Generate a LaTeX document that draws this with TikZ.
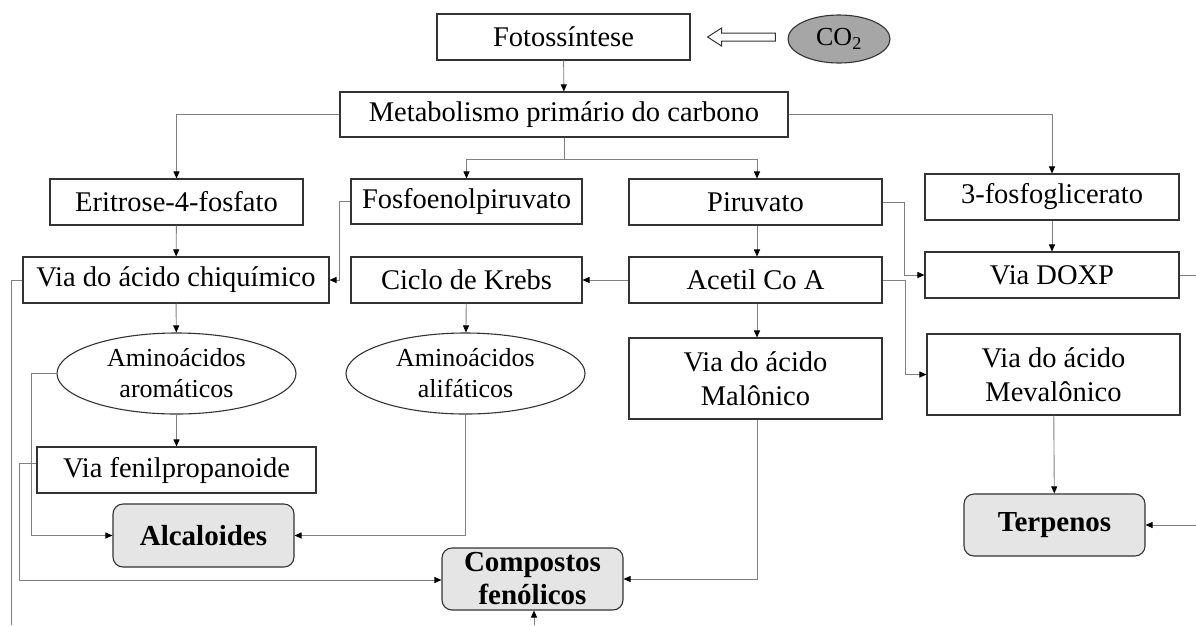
\documentclass[tikz,border=0pt]{standalone}
\usepackage{fontspec}
\setmainfont{Liberation Serif}
\usetikzlibrary{arrows.meta,shapes.geometric,calc}
\begin{document}
\begin{tikzpicture}[x=1pt,y=-1pt,
  box/.style={draw=black!80, line width=1.1pt, inner sep=0pt, font=\fontsize{28.5}{34}\selectfont, align=center},
  rbox/.style={box, rounded corners=10pt, fill=black!10, font=\fontsize{29}{33}\selectfont\bfseries},
  oval/.style={ellipse, draw=black!80, line width=1.1pt, inner sep=0pt, font=\fontsize{26}{31}\selectfont, align=center},
  conn/.style={draw=black!50, line width=0.9pt},
  arr/.style={conn, -{Triangle[length=7pt,width=6pt,color=black]}},
  fat/.style={draw=black!80, line width=1pt, fill=white}
]
\fill[white] (0,0) rectangle (1196,625);
\useasboundingbox (0,0) rectangle (1196,625);

% nodes
\node[box, minimum width=253pt, minimum height=46pt] (foto) at (563.5,37) {Fotossíntese};
\node[oval, fill=black!35, minimum width=102pt, minimum height=48pt, font=\fontsize{26}{30}\selectfont] (co2) at (839,39) {CO\textsubscript{2}};
\node[box, minimum width=448pt, minimum height=45pt] (metab) at (564,114.5) {Metabolismo primário do carbono};
\node[box, minimum width=253pt, minimum height=46pt] (erit) at (176.5,202) {Eritrose-4-fosfato};
\node[box, minimum width=231pt, minimum height=45pt] (fosfo) at (466.5,201.5) {Fosfoenolpiruvato};
\node[box, minimum width=253pt, minimum height=46pt] (piru) at (755.5,202) {Piruvato};
\node[box, minimum width=254pt, minimum height=46pt] (tres) at (1052,197) {3-fosfoglicerato};
\node[box, minimum width=306pt, minimum height=46pt] (chiq) at (176,280) {Via do ácido chiquímico};
\node[box, minimum width=231pt, minimum height=46pt] (krebs) at (466.5,280) {Ciclo de Krebs};
\node[box, minimum width=253pt, minimum height=46pt] (acetil) at (755.5,280) {Acetil Co A};
\node[box, minimum width=254pt, minimum height=46pt] (doxp) at (1052,275) {Via DOXP};
\node[oval, minimum width=239pt, minimum height=81pt] (arom) at (176.5,373.5) {Aminoácidos\\aromáticos};
\node[oval, minimum width=239pt, minimum height=81pt] (alif) at (465.5,373.5) {Aminoácidos\\alifáticos};
\node[box, minimum width=253pt, minimum height=81pt] (malon) at (755.5,378.5) {Via do ácido\\Malônico};
\node[box, minimum width=253pt, minimum height=81pt] (meval) at (1053.5,374.5) {Via do ácido\\Mevalônico};
\node[box, minimum width=279pt, minimum height=46pt] (fenil) at (176.5,470) {Via fenilpropanoide};
\node[rbox, minimum width=181pt, minimum height=63pt] (alca) at (203.5,535.5) {Alcaloides};
\node[rbox, minimum width=181pt, minimum height=62pt] (comp) at (532.5,579) {Compostos\\fenólicos};
\node[rbox, minimum width=181pt, minimum height=62pt] (terp) at (1054.5,525) {Terpenos};

% free ends
\coordinate (chiqend) at (11,625);
\coordinate (doxpend) at (1196,275);
\coordinate (terpin) at (1196,525);
\coordinate (compin) at (534,625);

% CO2 outline arrow
\path let \p1=($(foto.east)+(17,0)$), \p2=($(co2.west)+(-12,0)$) in
  \pgfextra{}
  [fat] (\x1,\y1) -- (\x1+14,\y1+9) -- (\x1+14,\y1+4) -- (\x2,\y1+4) -- (\x2,\y1-4) -- (\x1+14,\y1-4) -- (\x1+14,\y1-9) -- cycle;

% connectors
\draw[arr] (foto) -- (metab);
\draw[arr] (metab.west) -| (erit.north);
\draw[conn] (metab.south) -- ++(0,22) coordinate (j);
\draw[arr] (j) -| (fosfo.north);
\draw[arr] (j) -| ([xshift=1.5pt]piru.north);
\draw[arr] (metab.east) -| (tres.north);
\draw[arr] (fosfo.west) -- ++(-11,0) |- (chiq.east);
\draw[arr] (erit) -- (chiq);
\draw[conn] (chiq.west) -| (chiqend);
\draw[arr] (chiq) -- (arom);
\draw[arr] (krebs) -- (alif);
\draw[arr] (acetil) -- (krebs);
\draw[arr] ([xshift=1.5pt]piru.south) -- ([xshift=1.5pt]acetil.north);
\draw[arr] (piru.east) -- ++(22,0) |- (doxp.west);
\draw[arr] (tres) -- (doxp);
\draw[conn] (doxp.east) -- (doxpend);
\draw[arr] (acetil.east) -- ++(23,0) |- (meval.west);
\draw[arr] ([xshift=1.5pt]acetil.south) -- ([xshift=1.5pt]malon.north);
\draw[arr] (meval) -- (terp);
\draw[arr] (terpin) -- (terp.east);
\draw[arr] ([xshift=1.5pt]malon.south) |- (comp.east);
\draw[arr] (arom.west) -- ++(-25,0) |- (alca.west);
\draw[arr] (arom) -- (fenil);
\draw[arr] ([yshift=7pt]fenil.west) -- ++(-17,0) |- ([yshift=-1pt]comp.west);
\draw[arr] (alif.south) |- (alca.east);
\draw[arr] (compin) -- (compin |- comp.south);
\end{tikzpicture}
\end{document}
